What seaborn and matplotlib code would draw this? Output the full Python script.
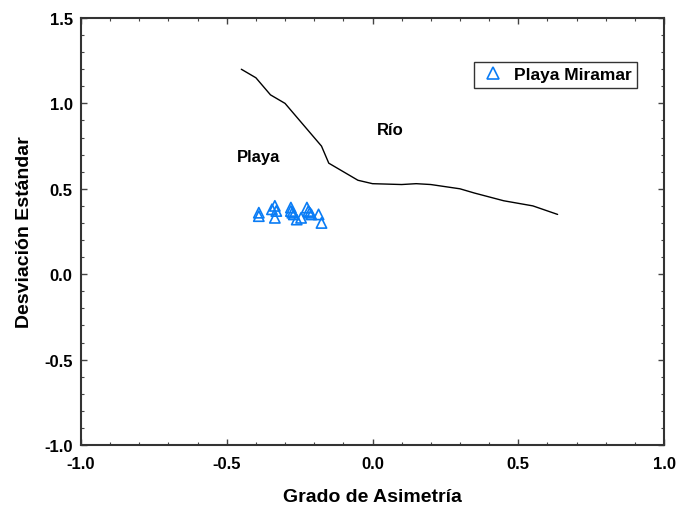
import matplotlib
matplotlib.use("Agg")
import matplotlib.pyplot as plt
import seaborn as sns
import pandas as pd
from matplotlib.ticker import MultipleLocator
from matplotlib.lines import Line2D

sns.set_theme(style="ticks")
plt.rcParams['font.family'] = ['Liberation Sans', 'DejaVu Sans']
plt.rcParams['text.color'] = 'black'
plt.rcParams['axes.labelcolor'] = 'black'
plt.rcParams['xtick.labelcolor'] = 'black'
plt.rcParams['ytick.labelcolor'] = 'black'

# Boundary line (Playa / Río)
line_x = [-0.45, -0.40, -0.35, -0.30, -0.175, -0.15, -0.05, 0.0, 0.10, 0.15, 0.20, 0.30, 0.35, 0.45, 0.55, 0.635]
line_y = [1.20, 1.15, 1.05, 1.00, 0.75, 0.65, 0.55, 0.53, 0.525, 0.53, 0.525, 0.50, 0.475, 0.43, 0.40, 0.35]

# Playa Miramar samples
pts_x = [-0.39, -0.39, -0.345, -0.335, -0.33, -0.335, -0.28, -0.28, -0.275, -0.27,
         -0.26, -0.245, -0.225, -0.22, -0.215, -0.21, -0.185, -0.175]
pts_y = [0.36, 0.34, 0.38, 0.40, 0.37, 0.33, 0.39, 0.37, 0.36, 0.35,
         0.32, 0.33, 0.39, 0.37, 0.36, 0.35, 0.35, 0.30]

line_df = pd.DataFrame({"x": line_x, "y": line_y})
pts_df = pd.DataFrame({"x": pts_x, "y": pts_y})

fig = plt.figure(figsize=(6.78, 5.06), dpi=100)
ax = fig.add_axes([81/678, 1 - 446/506, (664-81)/678, (446-19)/506])

sns.lineplot(data=line_df, x="x", y="y", ax=ax, color="black", linewidth=1.0,
             sort=False, estimator=None)
sns.scatterplot(data=pts_df, x="x", y="y", ax=ax, marker="^", s=55,
                facecolors="none", edgecolor="#0a7cf5", linewidth=1.2, legend=False)

ax.set_xlim(-1.0, 1.0)
ax.set_ylim(-1.0, 1.5)
ax.xaxis.set_major_locator(MultipleLocator(0.5))
ax.xaxis.set_minor_locator(MultipleLocator(0.1))
ax.yaxis.set_major_locator(MultipleLocator(0.5))
ax.yaxis.set_minor_locator(MultipleLocator(0.1))
ax.set_xticklabels([f"{v:.1f}" for v in ax.get_xticks()])
ax.set_yticklabels([f"{v:.1f}" for v in ax.get_yticks()])
ax.tick_params(which="both", direction="in", top=True, right=True, color="#444444")
ax.tick_params(which="major", length=4, width=1.0, labelsize=12, labelcolor="black")
ax.tick_params(axis="x", which="major", pad=8)
ax.tick_params(axis="y", which="major", pad=6)
ax.tick_params(which="minor", length=2, width=0.8)
for lab in ax.get_xticklabels() + ax.get_yticklabels():
    lab.set_fontweight("bold")
for sp in ax.spines.values():
    sp.set_visible(True)
    sp.set_color("#333333")
    sp.set_linewidth(1.5)

ax.set_xlabel("Grado de Asimetría", fontsize=14, fontweight="bold", labelpad=12, color="black")
ax.set_ylabel("Desviación Estándar", fontsize=14, fontweight="bold", labelpad=8, color="black")

ax.text(-0.39, 0.69, "Playa", fontsize=12, fontweight="bold", ha="center", va="center", color="black")
ax.text(0.06, 0.845, "Río", fontsize=12, fontweight="bold", ha="center", va="center", color="black")

handle = Line2D([], [], marker="^", linestyle="none", markerfacecolor="none",
                markeredgecolor="#0a7cf5", markersize=8, markeredgewidth=1.2)
leg = ax.legend([handle], ["Playa Miramar"], loc="upper right",
                bbox_to_anchor=(0.969, 0.917), frameon=True, fancybox=False,
                prop={"weight": "bold", "size": 12.5}, handletextpad=0.4,
                borderpad=0.3, handlelength=1.6, labelcolor="black")
leg.get_frame().set_edgecolor("black")
leg.get_frame().set_linewidth(1.0)

fig.savefig("out.png", dpi=100)
